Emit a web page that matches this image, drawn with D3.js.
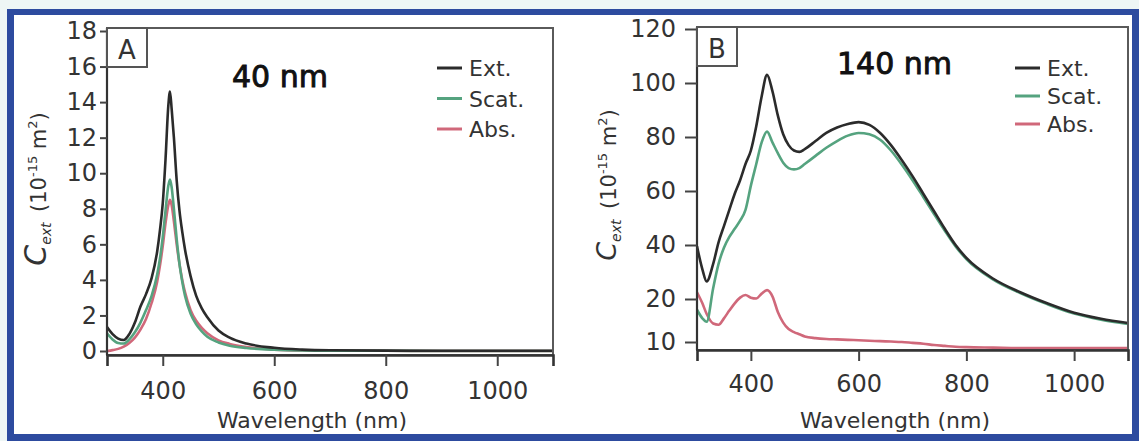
<!DOCTYPE html>
<html lang="en">
<head>
  <meta charset="utf-8">
  <title>Cext spectra 40 nm / 140 nm</title>
  <script type="text/javascript" src="https://cdn.jsdelivr.net/npm/d3@7"></script>
  <style>
    body { margin: 0; background: #eef6f5; }
    svg { display: block; }
    text { font-family: "DejaVu Sans", sans-serif; fill: #333; }
  </style>
</head>
<body>
<script type="text/javascript">
// ---- data ----
let wlA = [300,310,320,330,340,350,360,370,380,390,395,400,405,410,413,416,420,425,430,435,440,450,460,470,480,500,520,550,600,650,700,800,900,1000,1100];
let extA = [1.35,0.95,0.7,0.62,0.95,1.6,2.5,3.2,4.1,5.6,6.8,8.3,10.8,13.8,14.6,13.6,12.0,9.6,7.9,6.7,5.7,4.2,3.1,2.4,1.9,1.15,0.75,0.42,0.18,0.08,0.04,0.02,0.01,0.01,0.01];
let scatA = [1.0,0.65,0.45,0.42,0.65,1.05,1.6,2.3,3.1,4.3,5.2,6.4,7.9,9.3,9.65,9.2,8.0,6.3,4.9,3.9,3.1,2.1,1.5,1.1,0.8,0.48,0.3,0.17,0.07,0.03,0.02,0.01,0,0,0];
let absA = [0,0.05,0.12,0.25,0.45,0.75,1.2,1.8,2.7,3.9,4.8,5.9,7.2,8.2,8.5,8.2,7.3,6.0,4.9,4.0,3.3,2.3,1.7,1.3,1.0,0.6,0.4,0.22,0.08,0.03,0.02,0.01,0,0,0];

let wlB = [300,310,318,330,340,350,360,370,380,390,400,410,420,430,440,450,460,470,480,490,500,520,540,560,580,600,620,640,660,680,700,720,740,760,780,800,850,900,950,1000,1050,1100];
let extB = [39.5,31,26.5,33,41,47,53,59,64,70,75,84,95,103,97,88,81,77,75,74.5,75.5,78.5,81.5,83.5,84.8,85.5,84.5,81.5,77,71.5,65.5,59,52.5,46,40,35.2,27.5,22.5,19,16.8,15.4,14.4];
let scatB = [17.5,15.5,14.7,24,33,39,43,46,49,53,62,70,78,82,78,74,70.5,68.5,68,68.5,70,73,76,78.5,80.5,81.5,81,79,75,69.8,64,57.8,51.5,45.3,39.5,34.8,27.2,22.2,18.8,16.6,15.2,14.2];
let absB = [22.5,19,16.5,14.3,14,15.5,17.3,19,20.5,21.5,20.5,20.2,22,23.3,21,17,14.5,13,12.3,11.8,11.3,10.9,10.7,10.6,10.5,10.4,10.3,10.2,10.1,10,9.8,9.6,9.3,9.1,8.9,8.8,8.7,8.6,8.6,8.6,8.6,8.6];

let xTicks = [400, 600, 800, 1000];
let yTicksA = [0, 2, 4, 6, 8, 10, 12, 14, 16, 18];
let yTicksB = [10, 20, 40, 60, 80, 100, 120];
let seriesNames = ["Ext.", "Scat.", "Abs."];
let sizeLabels = ["40 nm", "140 nm"];
let panelLetters = ["A", "B"];
let xTitle = "Wavelength (nm)";

let colors = { "Ext.": "#2b2b2b", "Scat.": "#55a37f", "Abs.": "#d0687a" };

let w = 1139, h = 441;

let svg = d3.select("body")
  .append("svg")
  .attr("width", w)
  .attr("height", h);

// blue picture frame
svg.append("rect").attr("x", 7).attr("y", 9).attr("width", w - 7).attr("height", h - 9).attr("fill", "#2d4b9f");
svg.append("rect").attr("x", 14).attr("y", 15).attr("width", 1118).attr("height", 419).attr("fill", "#ffffff");

let panels = [
  { left: 107, top: 28, right: 553, bottom: 355,
    y: d3.scaleLinear().domain([0, 18]).range([351, 31]),
    yTicks: yTicksA, wl: wlA, series: [extA, scatA, absA],
    ytSize: 7, ytPad: 3, xtPad: 16,
    title: { x: 232, y: 87 }, legend: { x: 437, y: 68, step: 30.5 },
    ylab: { x: 46, y: 189, c: 30 }, xlab: 312 },
  { left: 697, top: 27, right: 1128, bottom: 350,
    y: d3.scaleLinear().domain([10, 20, 120]).range([342, 299, 29]),
    yTicks: yTicksB, wl: wlB, series: [extB, scatB, absB],
    ytSize: 12, ytPad: 9, xtPad: 14,
    title: { x: 837, y: 74 }, legend: { x: 1015, y: 68, step: 28 },
    ylab: { x: 616, y: 185, c: 27 }, xlab: 895 }
];

panels.forEach(function(p, pi) {
  let x = d3.scaleLinear().domain([300, 1100]).range([p.left, p.right]);
  let y = p.y;

  let clipId = "clip" + pi;
  svg.append("clipPath").attr("id", clipId)
    .append("rect")
    .attr("x", p.left).attr("y", p.top)
    .attr("width", p.right - p.left).attr("height", p.bottom - p.top);

  let line = d3.line()
    .x(function(d) { return x(d[0]); })
    .y(function(d) { return y(d[1]); })
    .curve(d3.curveMonotoneX);

  // draw Abs first, Ext last
  let g = svg.append("g").attr("clip-path", "url(#" + clipId + ")");
  [2, 1, 0].forEach(function(si) {
    let pts = p.wl.map(function(v, i) { return [v, p.series[si][i]]; });
    g.append("path")
      .attr("d", line(pts))
      .attr("fill", "none")
      .attr("stroke", colors[seriesNames[si]])
      .attr("stroke-width", 2.6)
      .attr("stroke-linejoin", "round");
  });

  // frame
  svg.append("rect")
    .attr("x", p.left).attr("y", p.top)
    .attr("width", p.right - p.left).attr("height", p.bottom - p.top)
    .attr("fill", "none").attr("stroke", "#5a5a5a").attr("stroke-width", 2);

  // axes
  let gx = svg.append("g")
    .attr("transform", "translate(0," + p.bottom + ")")
    .call(d3.axisBottom(x).tickValues(xTicks).tickSize(11).tickPadding(p.xtPad).tickFormat(d3.format("d")));
  gx.select(".domain").attr("stroke", "#333").attr("stroke-width", 2.6);
  gx.selectAll(".tick line").attr("stroke", "#444").attr("stroke-width", 2);
  gx.selectAll(".tick text").attr("font-size", 24).attr("fill", "#333").attr("font-family", "DejaVu Sans");

  let gy = svg.append("g")
    .attr("transform", "translate(" + p.left + ",0)")
    .call(d3.axisLeft(y).tickValues(p.yTicks).tickSize(p.ytSize).tickPadding(p.ytPad).tickSizeOuter(0));
  gy.select(".domain").attr("stroke", "#333").attr("stroke-width", 2.2)
    .attr("d", "M0," + p.top + "V" + p.bottom);
  gy.selectAll(".tick line").attr("stroke", "#444").attr("stroke-width", 2);
  gy.selectAll(".tick text").attr("font-size", 24).attr("fill", "#333").attr("font-family", "DejaVu Sans");

  // panel letter box
  svg.append("rect")
    .attr("x", p.left).attr("y", p.top)
    .attr("width", 40).attr("height", 39)
    .attr("fill", "#fff").attr("stroke", "#555").attr("stroke-width", 2);
  svg.append("text")
    .attr("x", p.left + 20).attr("y", p.top + 31)
    .attr("text-anchor", "middle")
    .attr("font-size", 26)
    .text(panelLetters[pi]);

  // size label
  svg.append("text")
    .attr("x", p.title.x).attr("y", p.title.y)
    .attr("font-size", 30)
    .style("fill", "#111")
    .style("stroke", "#111").style("stroke-width", 0.9)
    .text(sizeLabels[pi]);

  // legend
  seriesNames.forEach(function(name, i) {
    let ly = p.legend.y + i * p.legend.step;
    svg.append("line")
      .attr("x1", p.legend.x).attr("x2", p.legend.x + 25)
      .attr("y1", ly).attr("y2", ly)
      .attr("stroke", colors[name]).attr("stroke-width", 3);
    svg.append("text")
      .attr("x", p.legend.x + 32).attr("y", ly + 8)
      .attr("font-size", 22)
      .text(name);
  });

  // x title
  svg.append("text")
    .attr("x", p.xlab).attr("y", 428)
    .attr("text-anchor", "middle")
    .attr("font-size", 22)
    .text(xTitle);

  // y title: C_ext (10^-15 m^2)
  let yt = svg.append("text")
    .attr("transform", "translate(" + p.ylab.x + "," + p.ylab.y + ") rotate(-90)")
    .attr("text-anchor", "middle");
  yt.append("tspan").attr("font-size", p.ylab.c).attr("font-style", "italic").text("C");
  yt.append("tspan").attr("font-size", 14).attr("font-style", "italic").attr("dy", 5).text("ext");
  yt.append("tspan").attr("font-size", 21).attr("dy", -5).text("\u2002(10");
  yt.append("tspan").attr("font-size", 13).attr("dy", -9).text("-15");
  yt.append("tspan").attr("font-size", 21).attr("dy", 9).text(" m");
  yt.append("tspan").attr("font-size", 13).attr("dy", -9).text("2");
  yt.append("tspan").attr("font-size", 21).attr("dy", 9).text(")");
});
</script>
</body>
</html>
